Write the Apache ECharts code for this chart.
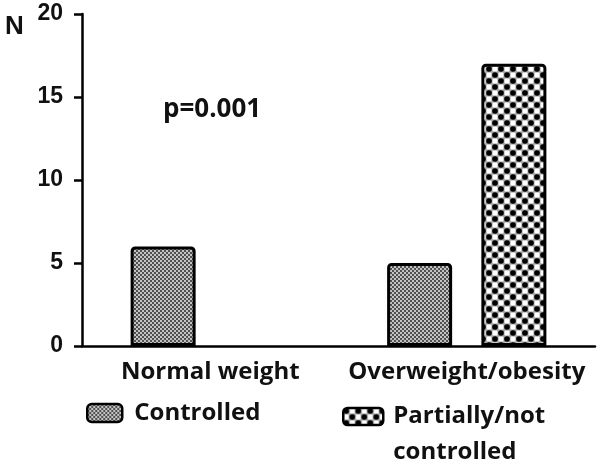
<!DOCTYPE html>
<html>
<head>
<meta charset="utf-8">
<script src="https://cdn.jsdelivr.net/npm/echarts@6/dist/echarts.min.js"></script>
<style>html,body{margin:0;padding:0;background:#fff;}#c{width:600px;height:464px;}</style>
</head>
<body>
<div id="c"></div>
<script>
var categories = ['Normal weight', 'Overweight/obesity'];
var seriesNames = ['Controlled', 'Partially/not controlled'];
var controlled = [6, 5];
var partially = [null, 17];
var yTicks = [0, 5, 10, 15, 20];
var yLabel = 'N';
var pValue = 'p=0.001';

function finePattern() {
  var c = document.createElement('canvas');
  c.width = 4; c.height = 4;
  var g = c.getContext('2d');
  g.fillStyle = '#505050'; g.fillRect(0, 0, 4, 4);
  g.fillStyle = '#c4c4c4'; g.fillRect(0, 0, 2, 2); g.fillRect(2, 2, 2, 2);
  return c;
}
function coarsePattern() {
  var c = document.createElement('canvas');
  c.width = 12; c.height = 12;
  var g = c.getContext('2d');
  g.fillStyle = '#9a9a9a'; g.fillRect(0, 0, 12, 12);
  g.fillStyle = '#ffffff';
  g.fillRect(6.5, 0.5, 5, 5); g.fillRect(0.5, 6.5, 5, 5);
  g.fillStyle = '#000000';
  g.beginPath(); g.arc(3, 3, 2.8, 0, Math.PI * 2); g.fill();
  g.beginPath(); g.arc(9, 9, 2.8, 0, Math.PI * 2); g.fill();
  return c;
}
var fineFill = { image: finePattern(), repeat: 'repeat' };
var coarseFill = { image: coarsePattern(), repeat: 'repeat' };

var labelFont = '"Open Sans", sans-serif';
var numFont = '"Liberation Sans", Arial, sans-serif';
var chart = echarts.init(document.getElementById('c'), null, { renderer: 'canvas' });
chart.setOption({
  animation: false,
  backgroundColor: '#ffffff',
  title: [
    { text: yLabel, left: 0, top: 9, textStyle: { fontFamily: numFont, fontWeight: 'bold', fontSize: 26, color: '#111' } },
    { text: pValue, left: 158, top: 92, textStyle: { fontFamily: labelFont, fontWeight: 'bold', fontSize: 26, color: '#111' } }
  ],
  grid: { left: 82, right: 5, top: 14, bottom: 118, containLabel: false },
  legend: [
    {
      data: [seriesNames[0]], left: 86, top: 395, padding: 0,
      itemWidth: 35, itemHeight: 18, icon: 'roundRect',
      itemStyle: { borderColor: '#000', borderWidth: 2.5 },
      textStyle: { fontFamily: labelFont, fontWeight: 'bold', fontSize: 24, color: '#111', lineHeight: 36, padding: [0, 0, 0, 7] }
    },
    {
      data: [seriesNames[1]], left: 342, top: 362.5, padding: 0,
      itemWidth: 40, itemHeight: 17, icon: 'roundRect',
      itemStyle: { borderColor: '#000', borderWidth: 2.5 },
      formatter: function () { return '\nPartially/not\ncontrolled'; },
      textStyle: { fontFamily: labelFont, fontWeight: 'bold', fontSize: 24, color: '#111', lineHeight: 36, padding: [0, 0, 0, 5] }
    }
  ],
  xAxis: {
    type: 'category',
    data: categories,
    axisLine: { lineStyle: { color: '#000', width: 2.5 } },
    axisTick: { alignWithLabel: true, length: 7, lineStyle: { color: '#000', width: 2 } },
    axisLabel: { interval: 0, hideOverlap: false, fontFamily: labelFont, fontWeight: 'bold', fontSize: 24, color: '#111', margin: 14 }
  },
  yAxis: {
    type: 'value',
    min: yTicks[0], max: yTicks[yTicks.length - 1], interval: 5,
    splitLine: { show: false },
    axisLine: { show: true, lineStyle: { color: '#000', width: 2.5 } },
    axisTick: { show: true, length: 8, lineStyle: { color: '#000', width: 2.5 } },
    axisLabel: { fontFamily: numFont, fontWeight: 'bold', fontSize: 23, color: '#111', margin: 19 }
  },
  series: [
    {
      name: seriesNames[0], type: 'bar', data: controlled,
      barWidth: 65, barGap: '45%',
      itemStyle: { color: fineFill, borderColor: '#000', borderWidth: 3, borderRadius: [3, 3, 0, 0] }
    },
    {
      name: seriesNames[1], type: 'bar', data: partially,
      barWidth: 65,
      itemStyle: { color: coarseFill, borderColor: '#000', borderWidth: 3, borderRadius: [3, 3, 0, 0] }
    }
  ]
});
</script>
</body>
</html>
